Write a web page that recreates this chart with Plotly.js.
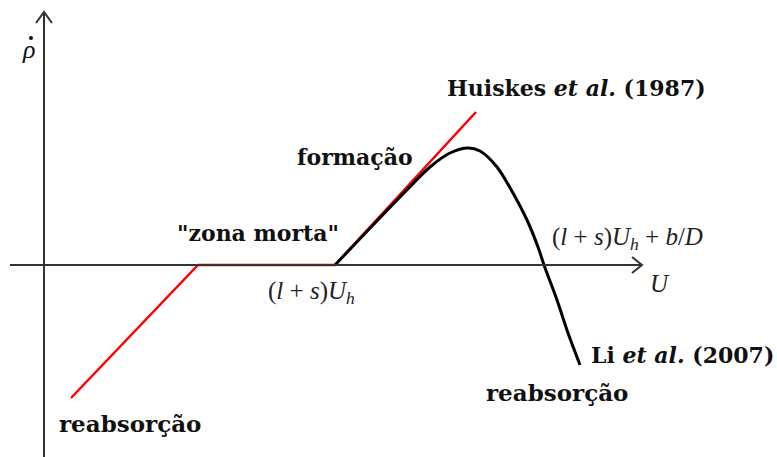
<!DOCTYPE html>
<html>
<head>
<meta charset="utf-8">
<script src="https://cdn.plot.ly/plotly-3.0.1.min.js"></script>
<style>
  html, body { margin: 0; padding: 0; background: #fff; }
  #chart { width: 777px; height: 457px; }
</style>
</head>
<body>
<div id="chart"></div>
<script>
// Remodelling-rate laws: resorption / dead zone / formation (Huiskes et al.)
// and the smooth law of Li et al. Units are arbitrary; origin where the axes cross.
var huiskesU   = [27, 154, 291, 432];
var huiskesRho = [-133, 0, 0, 153];

var liU   = [291, 356, 386, 406, 424, 436, 453, 469, 483, 494, 500, 513, 524, 536];
var liRho = [0, 68, 98, 112, 117, 114, 98, 72, 45, 18, 0, -35, -68, -100];

var axisColor = '#333333';
var serif = 'DejaVu Serif';
var mathFont = 'Liberation Serif';

var traces = [
  {
    x: huiskesU, y: huiskesRho, mode: 'lines', type: 'scatter',
    line: {color: '#ff0000', width: 2.5}, hoverinfo: 'skip'
  },
  {
    x: liU, y: liRho, mode: 'lines', type: 'scatter',
    line: {color: '#000000', width: 3, shape: 'spline', smoothing: 0.8}, hoverinfo: 'skip'
  }
];

function label(x, y, text, size, opts) {
  return Object.assign({
    x: x, y: y, xref: 'x', yref: 'y', text: text, showarrow: false,
    font: {family: serif, size: size, color: '#111111'}
  }, opts || {});
}

var mathStyle = {family: mathFont, size: 25, color: '#222222'};

var annotations = [
  label(532, 177, '<b>Huiskes <i>et al.</i> (1987)</b>', 22),
  label(311, 108, '<b>formação</b>', 22),
  label(214, 32, '<b>"zona morta"</b>', 22),
  label(86, -158, '<b>reabsorção</b>', 23),
  label(513, -127, '<b>reabsorção</b>', 23),
  label(638, -90, '<b>Li <i>et al.</i> (2007)</b>', 22),
  label(267, -27, '(<i>l</i> + <i>s</i>)<i>U</i><sub><i>h</i></sub>', 25, {font: mathStyle}),
  label(583, 27, '(<i>l</i> + <i>s</i>)<i>U</i><sub><i>h</i></sub> + <i>b</i>/<i>D</i>', 25, {font: mathStyle}),
  label(616, -18, '<i>U</i>', 25, {font: mathStyle}),
  label(-16, 216, '<i>ρ</i>', 26, {font: {family: mathFont, size: 26, color: '#111111'}})
];

var shapes = [
  // vertical axis with open arrowhead
  {type: 'line', xref: 'x', yref: 'y', x0: 0, y0: -195, x1: 0, y1: 253,
   line: {color: axisColor, width: 2}},
  {type: 'path', xref: 'x', yref: 'y', path: 'M -8,242 L 0,253 L 8,242',
   line: {color: axisColor, width: 2}},
  // horizontal axis with open arrowhead
  {type: 'line', xref: 'x', yref: 'y', x0: -34, y0: 0, x1: 598, y1: 0,
   line: {color: axisColor, width: 2}},
  {type: 'path', xref: 'x', yref: 'y', path: 'M 588,8 L 598,0 L 588,-8',
   line: {color: axisColor, width: 2}},
  // overdot of the time derivative on rho
  {type: 'circle', xref: 'x', yref: 'y', x0: -15, y0: 225, x1: -11, y1: 229,
   fillcolor: '#111111', line: {width: 0}}
];

var layout = {
  width: 777, height: 457,
  margin: {l: 0, r: 0, t: 0, b: 0},
  paper_bgcolor: '#ffffff', plot_bgcolor: '#ffffff',
  showlegend: false,
  xaxis: {range: [-44, 733], visible: false, fixedrange: true},
  yaxis: {range: [-192, 265], visible: false, fixedrange: true},
  shapes: shapes,
  annotations: annotations
};

Plotly.newPlot('chart', traces, layout, {staticPlot: true, displayModeBar: false});
</script>
</body>
</html>
